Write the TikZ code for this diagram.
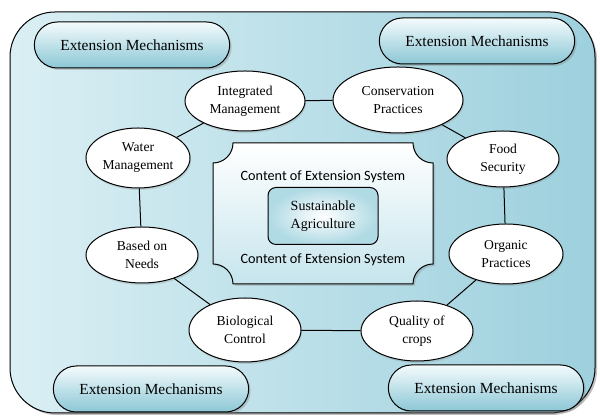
\documentclass[tikz,border=0pt]{standalone}
\usepackage{fontspec}
\setmainfont{Liberation Serif}
\newfontfamily\contentfont{Carlito}
\usetikzlibrary{positioning,shapes.geometric,shapes.misc,shadows}

\definecolor{framel}{HTML}{DAEFF4}
\definecolor{framer}{HTML}{9DD0DD}
\definecolor{pilltop}{HTML}{F4FBFD}
\definecolor{pillbot}{HTML}{8BC7D5}
\definecolor{plaquebot}{HTML}{C6E5ED}
\definecolor{corebox}{HTML}{B0DAE4}

\begin{document}
\begin{tikzpicture}[x=1pt,y=1pt,on grid,line width=1pt,
  every node/.style={align=center},
  topic/.style={ellipse,draw,fill=white,minimum width=112pt,minimum height=60pt,
    inner sep=0pt,font=\fontsize{13.6}{18}\selectfont,
    drop shadow={opacity=0.25,shadow xshift=1pt,shadow yshift=-2pt}},
  mech/.style={rounded rectangle,draw,minimum width=202pt,minimum height=46pt,
    top color=pilltop,bottom color=pillbot,font=\fontsize{15.4}{18}\selectfont,
    drop shadow={opacity=0.35,shadow xshift=2pt,shadow yshift=-2pt}},
  content/.style={font=\contentfont\fontsize{14.2}{16}\selectfont}]
  \useasboundingbox (0,0) rectangle (600,419);

  % outer frame and the plaque in the middle
  \draw[rounded corners=45pt,left color=framel,right color=framer,
    drop shadow={opacity=0.5,shadow xshift=2pt,shadow yshift=-2pt}]
    (10,6) rectangle (595,407);
  \draw[top color=white,bottom color=plaquebot,
    drop shadow={opacity=0.3,shadow xshift=2pt,shadow yshift=-2pt}]
    (233,276) -- (413,276) arc[start angle=180,end angle=270,radius=20]
    -- (433,155) arc[start angle=90,end angle=180,radius=20]
    -- (233,135) arc[start angle=0,end angle=90,radius=20]
    -- (213,256) arc[start angle=270,end angle=360,radius=20] -- cycle;

  \path
  node[mech] (em_tl) at (132,374) {Extension Mechanisms}
  node[mech] (em_tr) at (477,378) {Extension Mechanisms}
  node[mech] (em_bl) at (151,30)  {Extension Mechanisms}
  node[mech] (em_br) at (486,31)  {Extension Mechanisms}
  node[topic,minimum width=120pt] (integ) at (245,318) {Integrated\\Management}
  node[topic,minimum width=130pt,minimum height=66pt] (conserv) at (398,319) {Conservation\\Practices}
  node[topic,minimum width=104pt] (water) at (138,261) {Water\\Management}
  node[topic,minimum height=56pt] (food) at (503,260) {Food\\Security}
  node[topic,minimum height=56pt] (needs) at (142,164) {Based on\\Needs}
  node[topic,minimum height=64pt] (bio) at (245,89) {Biological\\Control}
  node[topic,minimum width=114pt] (organic) at (506,165) {Organic\\Practices}
  node[topic] (quality) at (417,88) {Quality of\\crops}
  node[draw,rounded corners=8pt,inner color=white,outer color=corebox,
    minimum width=110pt,minimum height=57pt,font=\fontsize{14}{18}\selectfont]
    (agri) at (323,203) {Sustainable\\Agriculture}
  node[content,above=39pt of agri] (cont_top) {Content of Extension System}
  node[content,below=44pt of agri] (cont_bot) {Content of Extension System}
  ;
  \path
  (integ) edge (conserv)
  (conserv) edge (food)
  (food) edge (organic)
  (organic) edge (quality)
  (quality) edge (bio)
  (bio) edge (needs)
  (needs) edge (water)
  (water) edge (integ)
  ;
\end{tikzpicture}
\end{document}
